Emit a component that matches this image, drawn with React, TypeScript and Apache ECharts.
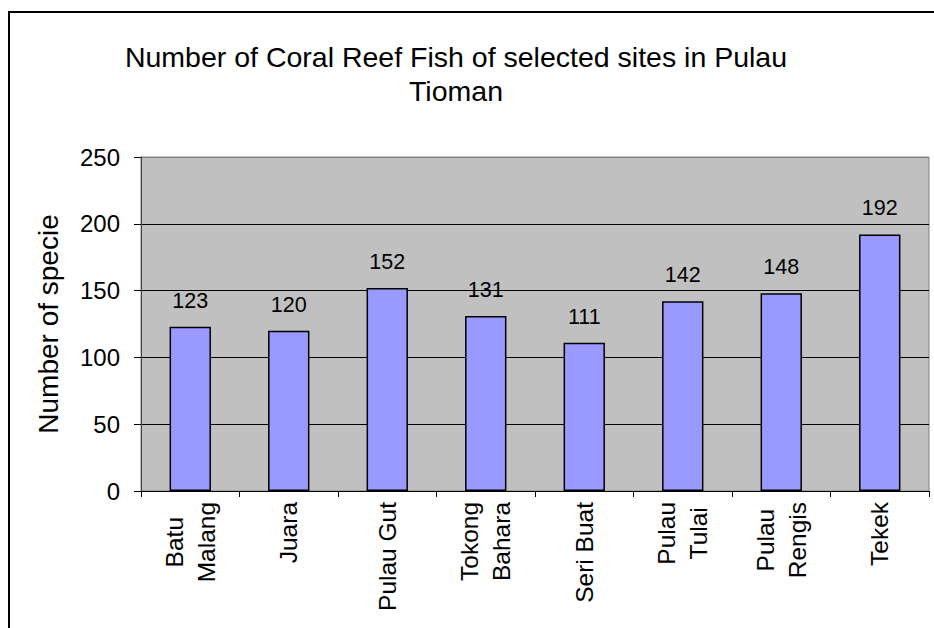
import React, { useEffect, useRef } from "react";
import * as echarts from "echarts";

const categories = [
  "Batu\nMalang",
  "Juara",
  "Pulau Gut",
  "Tokong\nBahara",
  "Seri Buat",
  "Pulau\nTulai",
  "Pulau\nRengis",
  "Tekek",
];
const speciesCounts = [123, 120, 152, 131, 111, 142, 148, 192];
const yTicks = { min: 0, max: 250, interval: 50 };
const titleText = "Number of Coral Reef Fish of selected sites in Pulau\nTioman";
const yAxisTitle = "Number of specie";

const FONT = "'Liberation Sans', Arial, sans-serif";

export default function App() {
  const ref = useRef<HTMLDivElement>(null);
  useEffect(() => {
    if (!ref.current) return;
    const chart = echarts.init(ref.current, null, { renderer: "svg" });
    chart.setOption({
      animation: false,
      backgroundColor: "#ffffff",
      textStyle: { fontFamily: FONT },
      title: {
        text: titleText,
        left: 451,
        top: 35,
        textAlign: "center",
        textStyle: {
          fontFamily: FONT,
          fontSize: 28.5,
          fontWeight: "normal",
          color: "#000",
          lineHeight: 34,
        },
      },
      graphic: [
        {
          type: "rect",
          shape: { x: 9, y: 12, width: 1000, height: 700 },
          style: { fill: "none", stroke: "#000", lineWidth: 2 },
          silent: true,
        },
      ],
      grid: {
        left: 141,
        top: 157,
        width: 788,
        height: 334,
        show: true,
        backgroundColor: "#C0C0C0",
        borderColor: "#808080",
        borderWidth: 1,
      },
      xAxis: {
        type: "category",
        data: categories,
        axisLine: { show: true, lineStyle: { color: "#000", width: 1 } },
        axisTick: { show: true, length: 6, lineStyle: { color: "#000" } },
        axisLabel: {
          rotate: 90,
          margin: 11,
          interval: 0,
          formatter: (v: string) =>
            v
              .split("\n")
              .map((s) => `{c|${s}}`)
              .join("\n"),
          rich: {
            c: {
              fontFamily: FONT,
              fontSize: 24.5,
              lineHeight: 32,
              align: "center",
              color: "#000",
            },
          },
        },
      },
      yAxis: {
        type: "value",
        min: yTicks.min,
        max: yTicks.max,
        interval: yTicks.interval,
        name: yAxisTitle,
        nameLocation: "middle",
        nameGap: 79,
        nameTextStyle: { fontFamily: FONT, fontSize: 28, color: "#000" },
        axisLine: { show: true, lineStyle: { color: "#404040", width: 1 } },
        axisTick: { show: true, length: 7, lineStyle: { color: "#000" } },
        axisLabel: {
          fontFamily: FONT,
          fontSize: 24,
          color: "#000",
          margin: 21,
        },
        splitLine: {
          show: true,
          lineStyle: {
            color: ["#000", "#000", "#000", "#000", "#000", "#808080"],
            width: 1,
          },
        },
      },
      series: [
        {
          type: "bar",
          data: speciesCounts,
          barWidth: "42%",
          itemStyle: { color: "#9999FF", borderColor: "#000", borderWidth: 1.5 },
          label: {
            show: true,
            position: "top",
            distance: 15,
            fontFamily: FONT,
            fontSize: 21.5,
            color: "#000",
          },
        },
      ],
    });
    return () => chart.dispose();
  }, []);
  return (
    <div
      ref={ref}
      style={{ position: "fixed", left: 0, top: 0, width: 934, height: 628 }}
    />
  );
}
